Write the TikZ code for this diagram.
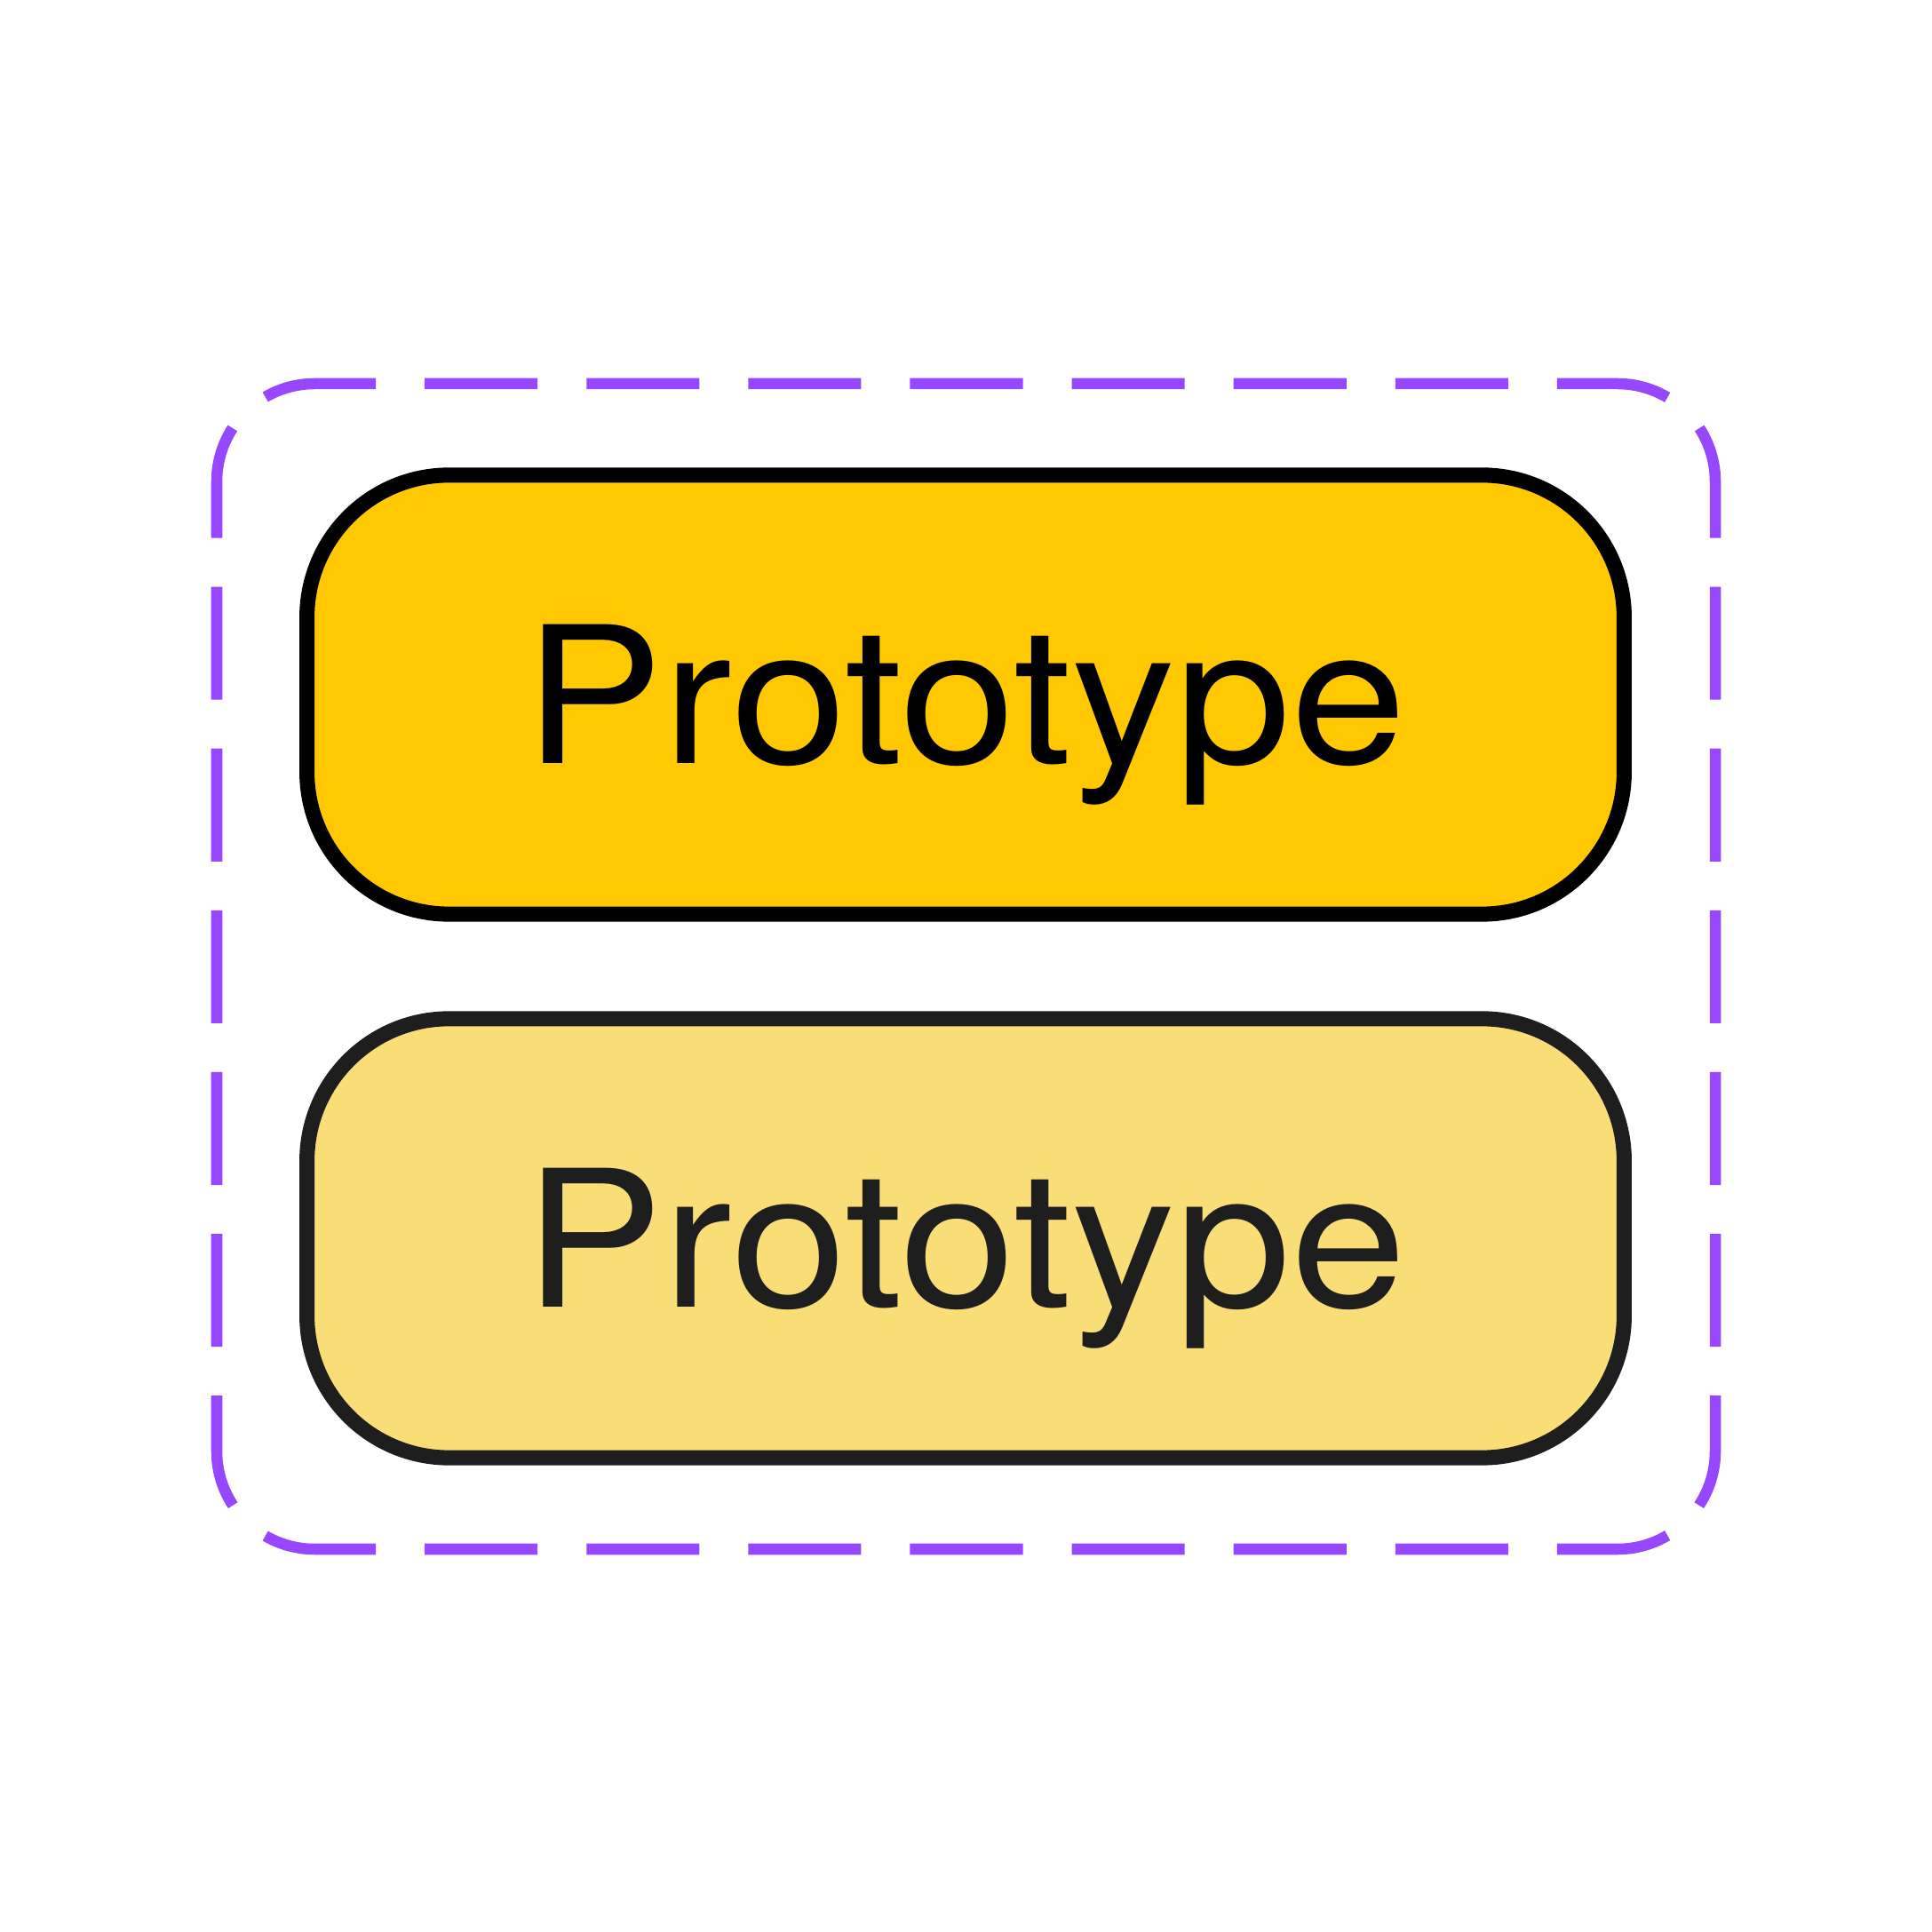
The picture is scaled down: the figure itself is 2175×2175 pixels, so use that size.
\documentclass[tikz,border=0pt]{standalone}
\usepackage{fontspec}
\setmainfont[FakeStretch=1.09]{TeX Gyre Heros}
\definecolor{framepurple}{HTML}{9747FF}
\definecolor{primaryfill}{HTML}{FFC800}
\definecolor{secondfill}{HTML}{F9DE78}
\definecolor{darkline}{HTML}{1E1E1E}
\tikzset{
  variantbox/.style={rectangle, rounded corners=1.6cm, line width=4.84pt,
    minimum width=14.82cm, minimum height=4.94cm, inner sep=0pt,
    text height=1.545cm, text depth=0pt,
    font=\fontsize{61pt}{70pt}\selectfont},
  primarybox/.style={variantbox, draw=black, fill=primaryfill, text=black},
  secondbox/.style={variantbox, draw=darkline, fill=secondfill, text=darkline},
  framedash/.style={draw=framepurple, line width=3.56pt,
    dash pattern=on 1.27cm off 0.55cm},
  hdash/.style={framedash, dash phase=1.536cm},
  vdash/.style={framedash, dash phase=1.591cm}
}
\begin{document}
\begin{tikzpicture}[x=0.01cm,y=0.01cm]
\useasboundingbox (0,0) rectangle (2175,2175);
% frame geometry
\def\fL{244}\def\fR{1931}\def\fT{1743}\def\fB{431}\def\fr{110}
\coordinate (cornerTL) at ({\fL+\fr-\fr*cos(45)},{\fT-\fr+\fr*sin(45)});
\coordinate (cornerTR) at ({\fR-\fr+\fr*cos(45)},{\fT-\fr+\fr*sin(45)});
\coordinate (cornerBL) at ({\fL+\fr-\fr*cos(45)},{\fB+\fr-\fr*sin(45)});
\coordinate (cornerBR) at ({\fR-\fr+\fr*cos(45)},{\fB+\fr-\fr*sin(45)});
\draw[hdash] (cornerTL) arc[start angle=135,end angle=90,radius=\fr]
  -- (\fR-\fr,\fT) arc[start angle=90,end angle=45,radius=\fr];
\draw[hdash] (cornerBL) arc[start angle=225,end angle=270,radius=\fr]
  -- (\fR-\fr,\fB) arc[start angle=270,end angle=315,radius=\fr];
\draw[vdash] (cornerTL) arc[start angle=135,end angle=180,radius=\fr]
  -- (\fL,\fB+\fr) arc[start angle=180,end angle=225,radius=\fr];
\draw[vdash] (cornerTR) arc[start angle=45,end angle=0,radius=\fr]
  -- (\fR,\fB+\fr) arc[start angle=0,end angle=-45,radius=\fr];
% variants
\node[primarybox] (variantA) at (1087,1393) {Prototype};
\node[secondbox] (variantB) at (1087,781) {Prototype};
\end{tikzpicture}
\end{document}
